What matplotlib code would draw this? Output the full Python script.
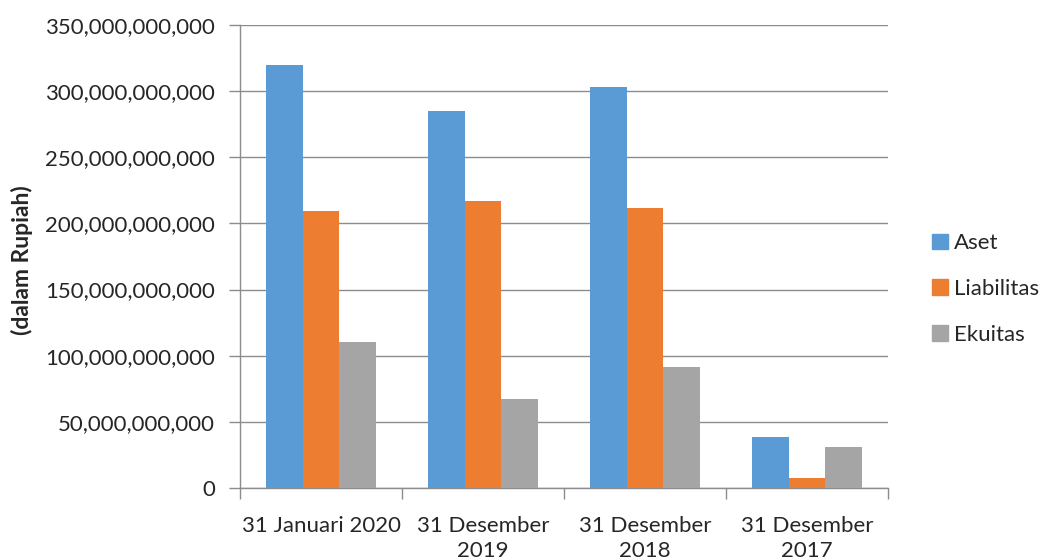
import matplotlib
matplotlib.use("Agg")
import matplotlib.pyplot as plt
import numpy as np
from matplotlib.ticker import FuncFormatter, FixedLocator
from matplotlib.patches import Patch

plt.rcParams['font.family'] = ['Lato', 'DejaVu Sans']

periode = ["31 Januari 2020", "31 Desember\n2019", "31 Desember\n2018", "31 Desember\n2017"]
aset = [320e9, 285e9, 303e9, 38.6e9]
liabilitas = [209.5e9, 217e9, 211.7e9, 7.6e9]
ekuitas = [110.5e9, 67.5e9, 91.5e9, 31e9]

seri = [("Aset", aset, "#5B9BD5"),
        ("Liabilitas", liabilitas, "#ED7D31"),
        ("Ekuitas", ekuitas, "#A5A5A5")]

fig = plt.figure(figsize=(10.4, 5.6), dpi=100)
ax = fig.add_axes([240/1040, 1-488/560, 648/1040, 463/560])

x = np.arange(len(periode))
w = 0.225
for i, (nama, nilai, warna) in enumerate(seri):
    ax.bar(x + (i-1)*w, nilai, w, color=warna, zorder=3, label=nama)

ax.set_xlim(-0.5, len(periode)-0.5)
ax.set_ylim(0, 350e9)
ax.set_yticks(np.arange(0, 351e9, 50e9))
ax.yaxis.set_major_formatter(FuncFormatter(lambda v, p: f"{int(round(v)):,}"))
ax.grid(axis='y', color='#8C8C8C', linewidth=1, zorder=0)

ax.set_xticks(x)
ax.set_xticklabels(periode, linespacing=1.3)
ax.xaxis.set_minor_locator(FixedLocator(np.arange(-0.5, len(periode), 1)))
ax.tick_params(axis='x', which='major', length=0, pad=20, labelsize=16)
ax.tick_params(axis='x', which='minor', length=8, color='#8C8C8C', width=1)
ax.tick_params(axis='y', length=8, color='#8C8C8C', width=1, pad=10, labelsize=16)
ax.tick_params(labelcolor='#262626')

for s in ['top', 'right']:
    ax.spines[s].set_visible(False)
for s in ['left', 'bottom']:
    ax.spines[s].set_color('#8C8C8C')
    ax.spines[s].set_linewidth(1)

fig.text(22/1040, 1-260/560, "(dalam Rupiah)", rotation=90, ha='center', va='center',
         fontsize=16.5, fontweight='bold', color='#262626')

handles = [Patch(color=c, label=n) for n, _, c in seri]
fig.legend(handles=handles, loc='center left', bbox_to_anchor=(912/1040, 1-289/560),
           frameon=False, fontsize=16, labelspacing=1.15, handlelength=0.7,
           handleheight=0.7, handletextpad=0.3, labelcolor='#262626')

fig.savefig("out.png", dpi=100)
